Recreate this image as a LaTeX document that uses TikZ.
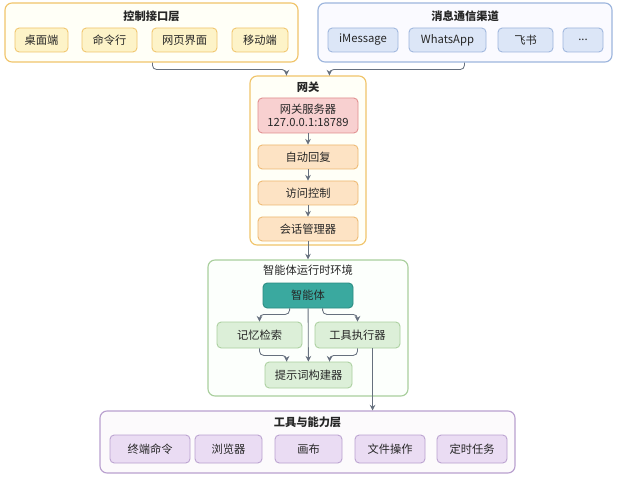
\documentclass[tikz,border=0pt]{standalone}
\usepackage{fontspec}
\setmainfont{Noto Sans CJK SC}
\usepackage{tikz}
\usepackage{xcolor}
\usetikzlibrary{calc}
\usetikzlibrary{positioning}
\usetikzlibrary{arrows.meta}

\def\pxu{0.025cm}
\definecolor{ylwline}{HTML}{F0C46A}
\definecolor{ylwfill}{HTML}{FDF3C8}
\definecolor{bluline}{HTML}{9DB5DD}
\definecolor{blufill}{HTML}{DCE6F7}
\definecolor{redline}{HTML}{E08C8C}
\definecolor{redfill}{HTML}{F8D0D0}
\definecolor{orgline}{HTML}{EDB870}
\definecolor{orgfill}{HTML}{FDE3C4}
\definecolor{grnline}{HTML}{A9CF9D}
\definecolor{grnfill}{HTML}{DCEFD8}
\definecolor{tealline}{HTML}{2A8A80}
\definecolor{tealfill}{HTML}{3AA99F}
\definecolor{purline}{HTML}{B9A0CF}
\definecolor{purfill}{HTML}{EADCF3}
\definecolor{connclr}{HTML}{66707E}

\tikzset{
  grp/.style={draw, rounded corners=5pt, line width=0.8pt, inner sep=0pt},
  ttl/.style={font=\fontsize{8}{9.5}\selectfont\bfseries, text=black!85},
  bx/.style={draw, rounded corners=3pt, line width=0.6pt, inner sep=0pt,
    minimum height=24*\pxu, font=\fontsize{8}{9.5}\selectfont, text=black!85},
  conn/.style={draw=connclr, line width=0.6pt, -{Stealth[length=4pt,width=4pt]}, rounded corners=3pt},
}

\begin{document}
\begin{tikzpicture}[x=0.025cm, y=-0.025cm]
\useasboundingbox (0,0) rectangle (620,479);

% control layer
\node[grp, draw=ylwline, fill=yellow!3, minimum width=293*\pxu, minimum height=59*\pxu] (ctrl) at (151.5,32.5) {};
\node[ttl] at (151.5,16) {控制接口层};
\node[bx, draw=ylwline, fill=ylwfill, minimum width=53*\pxu] (desk) at (41.5,40) {桌面端};
\node[bx, draw=ylwline, fill=ylwfill, minimum width=55*\pxu] (cli) at (109.5,40) {命令行};
\node[bx, draw=ylwline, fill=ylwfill, minimum width=65*\pxu] (web) at (184.5,40) {网页界面};
\node[bx, draw=ylwline, fill=ylwfill, minimum width=56*\pxu] (mobile) at (260,40) {移动端};

% channels
\node[grp, draw=bluline, fill=blue!2, minimum width=294*\pxu, minimum height=59*\pxu] (chan) at (465,32.5) {};
\node[ttl] at (465,16) {消息通信渠道};
\node[bx, draw=bluline, fill=blufill, minimum width=70*\pxu] (imsg) at (363,40) {iMessage};
\node[bx, draw=bluline, fill=blufill, minimum width=77*\pxu] (wapp) at (447.5,40) {WhatsApp};
\node[bx, draw=bluline, fill=blufill, minimum width=55*\pxu] (feishu) at (525.5,40) {飞书};
\node[bx, draw=bluline, fill=blufill, minimum width=40*\pxu] (more) at (583,40) {...};

% gateway
\node[grp, draw=ylwline, fill=yellow!3, minimum width=116*\pxu, minimum height=169*\pxu] (gw) at (308,160.5) {};
\node[ttl] at (308,87) {网关};
\node[bx, draw=redline, fill=redfill, minimum width=100*\pxu, minimum height=35*\pxu, align=center] (srv) at (308,115.5) {网关服务器\\127.0.0.1:18789};
\node[bx, draw=orgline, fill=orgfill, minimum width=100*\pxu] (reply) at (308,157) {自动回复};
\node[bx, draw=orgline, fill=orgfill, minimum width=100*\pxu] (acl) at (308,193) {访问控制};
\node[bx, draw=orgline, fill=orgfill, minimum width=100*\pxu] (sess) at (308,229) {会话管理器};

% agent runtime
\node[grp, draw=grnline, fill=green!1, minimum width=200*\pxu, minimum height=136*\pxu] (rt) at (308,328) {};
\node[ttl, font=\fontsize{8}{9.5}\selectfont] at (308,270) {智能体运行时环境};
\node[bx, draw=tealline, fill=tealfill, minimum width=90*\pxu, minimum height=25*\pxu] (agent) at (308,295.5) {智能体};
\node[bx, draw=grnline, fill=grnfill, minimum width=85*\pxu, minimum height=26*\pxu] (mem) at (259.5,335) {记忆检索};
\node[bx, draw=grnline, fill=grnfill, minimum width=85*\pxu, minimum height=26*\pxu] (exec) at (357.5,335) {工具执行器};
\node[bx, draw=grnline, fill=grnfill, minimum width=87*\pxu, minimum height=26*\pxu] (prompt) at (308.5,375) {提示词构建器};

% tools
\node[grp, draw=purline, fill=violet!2, minimum width=415*\pxu, minimum height=62*\pxu] (tl) at (307.5,442) {};
\node[ttl] at (307.5,422) {工具与能力层};
\node[bx, draw=purline, fill=purfill, minimum width=80*\pxu, minimum height=28*\pxu] (term) at (150,449) {终端命令};
\node[bx, draw=purline, fill=purfill, minimum width=67*\pxu, minimum height=28*\pxu] (brow) at (228.5,449) {浏览器};
\node[bx, draw=purline, fill=purfill, minimum width=67*\pxu, minimum height=28*\pxu] (canv) at (308.5,449) {画布};
\node[bx, draw=purline, fill=purfill, minimum width=70*\pxu, minimum height=28*\pxu] (file) at (390,449) {文件操作};
\node[bx, draw=purline, fill=purfill, minimum width=70*\pxu, minimum height=28*\pxu] (cron) at (472,449) {定时任务};

% connectors
\draw[conn] ([xshift=148*\pxu]ctrl.south west) -- ++(0,7) -| ([xshift=37*\pxu]gw.north west);
\draw[conn] ([xshift=147*\pxu]chan.south west) -- ++(0,7) -| ([xshift=80*\pxu]gw.north west);
\draw[conn] (srv) -- (reply);
\draw[conn] (reply) -- (acl);
\draw[conn] (acl) -- (sess);
\draw[conn] (sess) -- (rt);
\draw[conn] ([xshift=27*\pxu]agent.south west) -- ++(0,6) -| (mem.north);
\draw[conn] ([xshift=60*\pxu]agent.south west) -- ++(0,6) -| (exec.north);
\draw[conn] (agent) -- (prompt);
\draw[conn] (mem.south) -- ++(0,7) -| ([xshift=22*\pxu]prompt.north west);
\draw[conn] (exec.south) -- ++(0,7) -| ([xshift=65*\pxu]prompt.north west);
\draw[conn] ([xshift=58*\pxu]exec.south west) coordinate (down) -- (down |- tl.north);
\end{tikzpicture}
\end{document}
